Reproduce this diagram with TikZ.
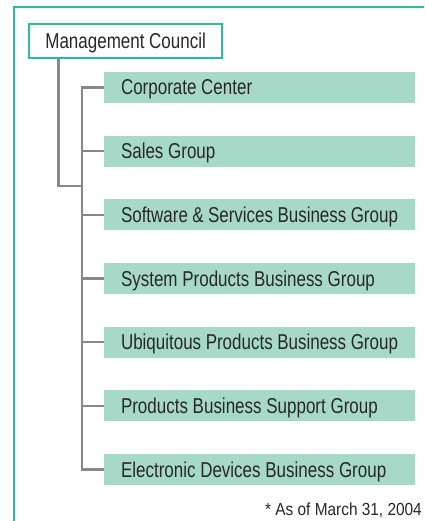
\documentclass[tikz,border=0pt]{standalone}
\usepackage{fontspec}
\setmainfont{Liberation Sans}[FakeStretch=0.79]
\newfontfamily\notefont{Liberation Sans}[FakeStretch=0.88]
\usetikzlibrary{shapes,arrows}
\definecolor{councilgreen}{RGB}{44,187,155}
\definecolor{unitgreen}{RGB}{166,217,200}
\definecolor{linegray}{RGB}{136,136,139}
\definecolor{inkgray}{RGB}{40,40,40}
\tikzstyle{council} = [draw=councilgreen, line width=2pt, fill=white, text=inkgray, minimum width=192.7pt, minimum height=33.7pt, text height=15pt, text depth=0pt, font=\fontsize{21.5}{25}\selectfont]
\tikzstyle{unit} = [rectangle, fill=unitgreen, text=inkgray, text width=277pt, align=flush left, inner xsep=17pt, inner ysep=0pt, minimum height=31pt, text height=15pt, text depth=0pt, font=\fontsize{21.5}{25}\selectfont]
\tikzstyle{line} = [draw=linegray, line width=2.6pt, line cap=rect]
\tikzstyle{frame} = [draw=councilgreen, line width=2pt]
\tikzstyle{note} = [text=inkgray, inner sep=0pt, font=\notefont\fontsize{17.5}{20}\selectfont]
\pgfdeclarelayer{background}
\pgfdeclarelayer{foreground}
\pgfsetlayers{background,main,foreground}

\begin{document}
\begin{tikzpicture}[x=1pt, y=-1pt, node distance=63.67pt]
    \useasboundingbox (0,0) rectangle (424,521);
    \path[frame] (13.7,521) -- (13.7,6.7) -- (424,6.7);

    % Place nodes
    \node [council] (council) at (125.65,41.15) {Management Council};
    \node [unit] (corporate) at (259.5,87.5) {Corporate Center};
    \node [unit, below of=corporate] (sales) {Sales Group};
    \node [unit, below of=sales] (software) {Software \& Services Business Group};
    \node [unit, below of=software] (sysprod) {System Products Business Group};
    \node [unit, below of=sysprod] (ubiquitous) {Ubiquitous Products Business Group};
    \node [unit, below of=ubiquitous] (support) {Products Business Support Group};
    \node [unit, below of=support] (devices) {Electronic Devices Business Group};
    \node [note, anchor=base east] (asof) at (422,515) {* As of March 31, 2004};

    % Draw edges behind the boxes
    \begin{pgfonlayer}{background}
        \coordinate (drop) at (58.7,0);
        \coordinate (tap) at (82,186);
        \path [line] (council.south -| drop) |- (tap);
        \path [line] (tap |- corporate.west) -- (tap |- devices.west);
        \foreach \unit in {corporate,sales,software,sysprod,ubiquitous,support,devices}
            \path [line] (tap |- \unit.west) -- (\unit.west);
    \end{pgfonlayer}
\end{tikzpicture}
\end{document}
